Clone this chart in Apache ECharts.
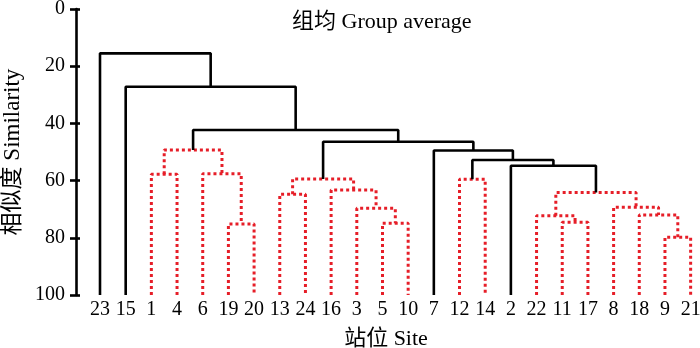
<!DOCTYPE html>
<html>
<head>
<meta charset="utf-8">
<script src="https://cdn.jsdelivr.net/npm/echarts@6/dist/echarts.min.js"></script>
<style>
  html, body { margin: 0; padding: 0; background: #fff; }
  #chart { width: 700px; height: 348px; }
</style>
</head>
<body>
<div id="chart"></div>
<script>
// leaf order along the bottom (站位)
const leaves = ['23', '15', '1', '4', '6', '19', '20', '13', '24', '16', '3', '5', '10',
  '7', '12', '14', '2', '22', '11', '17', '8', '18', '9', '21']

// merges: [left, right, similarity]; 'mK' refers to the K-th merge
const merges = [
  ['1', '4', 57.8],     // m0
  ['19', '20', 75.2],   // m1
  ['6', 'm1', 57.6],    // m2
  ['m0', 'm2', 49.3],   // m3
  ['5', '10', 74.9],    // m4
  ['3', 'm4', 69.7],    // m5
  ['16', 'm5', 63.3],   // m6
  ['13', '24', 64.8],   // m7
  ['m7', 'm6', 59.4],   // m8
  ['12', '14', 59.5],   // m9
  ['11', '17', 74.6],   // m10
  ['22', 'm10', 72.3],  // m11
  ['9', '21', 79.8],    // m12
  ['18', 'm12', 72.0],  // m13
  ['8', 'm13', 69.3],   // m14
  ['m11', 'm14', 64.2], // m15
  ['2', 'm15', 54.8],   // m16
  ['m9', 'm16', 52.8],  // m17
  ['7', 'm17', 49.5],   // m18
  ['m8', 'm18', 46.4],  // m19
  ['m3', 'm19', 42.3],  // m20
  ['15', 'm20', 27.2],  // m21
  ['23', 'm21', 15.5]   // m22
]

// merges that start a grouped cluster (drawn dotted red with everything below)
const groupRoots = [3, 8, 9, 15]

const yTicks = [0, 20, 40, 60, 80, 100]

const FONT = '"Liberation Serif", "Noto Sans CJK SC", serif'

const nodes = []
const resolve = ref => {
  if (ref[0] === 'm') return nodes[+ref.slice(1)]
  return { x: leaves.indexOf(ref), h: 100, leaf: true }
}
merges.forEach(([a, b, h], i) => {
  const l = resolve(a)
  const r = resolve(b)
  nodes.push({ x: (l.x + r.x) / 2, h, l, r, id: i })
})

const grouped = new Set()
const mark = n => {
  if (!n || n.leaf) return
  grouped.add(n.id)
  mark(n.l)
  mark(n.r)
}
groupRoots.forEach(i => mark(nodes[i]))

const series = nodes.map(n => {
  const red = grouped.has(n.id)
  return {
    type: 'line',
    data: [[n.l.x, n.l.h], [n.l.x, n.h], [n.r.x, n.h], [n.r.x, n.r.h]],
    symbol: 'none',
    silent: true,
    z: red ? 2 : 3,
    lineStyle: red
      ? { color: '#e61e28', width: 3, type: [3, 3] }
      : { color: '#000', width: 2.6 }
  }
})

const chart = echarts.init(document.getElementById('chart'))
chart.setOption({
  animation: false,
  title: {
    text: '组均 Group average',
    left: 287,
    top: 6,
    textStyle: { fontFamily: FONT, fontSize: 22, fontWeight: 'normal', color: '#000' }
  },
  grid: { left: 76, right: 4, top: 9, bottom: 53, outerBoundsMode: 'none' },
  xAxis: {
    type: 'value',
    min: -24 / 25.68,
    max: 596 / 25.68,
    name: '站位 Site',
    nameLocation: 'middle',
    nameGap: 33,
    nameTextStyle: { fontFamily: FONT, fontSize: 22, color: '#000' },
    axisLine: { show: false },
    axisTick: { show: false },
    splitLine: { show: false },
    axisLabel: {
      customValues: leaves.map((_, i) => i),
      formatter: v => leaves[Math.round(v)],
      margin: 5,
      fontFamily: FONT,
      fontSize: 20,
      color: '#000'
    }
  },
  yAxis: [
    {
      type: 'value',
      inverse: true,
      min: 0,
      max: 100,
      interval: 20,
      name: '相似度 Similarity',
      nameLocation: 'middle',
      nameGap: 49,
      nameTextStyle: { fontFamily: FONT, fontSize: 23, color: '#000' },
      axisLine: { show: true, onZero: false, lineStyle: { color: '#000', width: 2.6 } },
      axisTick: { show: true, length: 6, lineStyle: { color: '#000', width: 2.6 } },
      splitLine: { show: false },
      axisLabel: {
        margin: 11,
        fontFamily: FONT,
        fontSize: 20,
        color: '#000',
        customValues: yTicks
      }
    },
    {
      type: 'value',
      inverse: true,
      position: 'left',
      min: 0,
      max: 100,
      interval: 20,
      axisLine: { show: false, onZero: false },
      axisTick: { show: true, inside: true, length: 4, lineStyle: { color: '#000', width: 2.6 } },
      axisLabel: { show: false },
      splitLine: { show: false }
    }
  ],
  series
})
</script>
</body>
</html>
